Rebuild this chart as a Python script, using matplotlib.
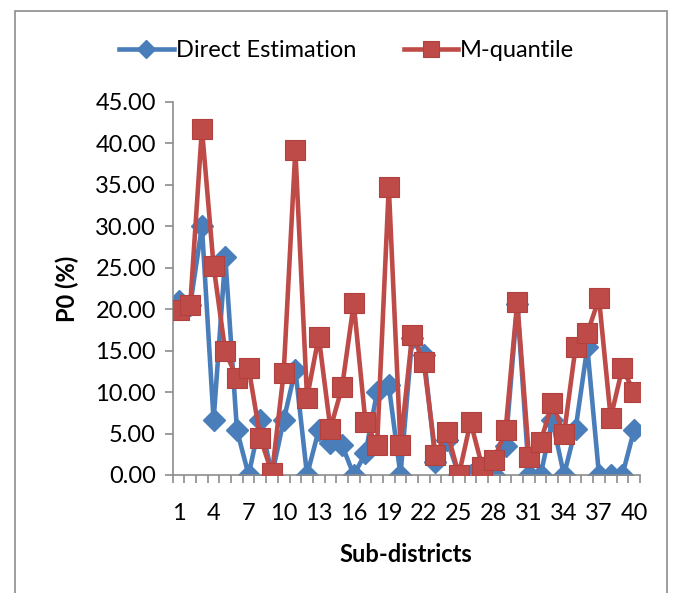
import numpy as np
import matplotlib.pyplot as plt
from matplotlib.patches import Rectangle

# sub-district index 1..40
districts = np.arange(1, 41)

direct_est = [21.0, 20.5, 30.0, 6.6, 26.3, 5.4, 0.0, 6.6, 0.0, 6.6,
              12.7, 0.0, 5.4, 3.8, 3.6, 0.0, 2.6, 10.0, 10.8, 0.0,
              16.5, 14.5, 1.6, 4.2, 0.0, 0.0, 0.0, 0.0, 3.5, 20.6,
              0.0, 0.0, 6.6, 0.0, 5.6, 15.4, 0.0, 0.0, 0.0, 5.4]
m_quantile = [19.9, 20.5, 41.8, 25.2, 14.9, 11.7, 12.9, 4.5, 0.2, 12.3,
              39.2, 9.3, 16.7, 5.6, 10.6, 20.7, 6.4, 3.6, 34.8, 3.6,
              16.9, 13.6, 2.4, 5.2, 0.0, 6.4, 1.0, 1.8, 5.4, 20.9,
              2.2, 4.0, 8.7, 4.9, 15.5, 17.1, 21.3, 6.9, 12.9, 10.0]

x_labels = np.arange(1, 41, 3)
y_ticks = np.arange(0, 46, 5)

plt.rcParams['font.family'] = ['Lato', 'DejaVu Sans']

fig = plt.figure(figsize=(6.8, 5.93), dpi=100)
ax = fig.add_axes([0.254, 0.199, 0.687, 0.629])

# outer chart border (bottom edge is cut off in the original)
fig.patches.append(Rectangle((15/680, -0.05), 652/680, 1.05 - 11/593,
                             transform=fig.transFigure, fill=False,
                             edgecolor='#8c8c8c', lw=1.2))

blue = '#4A7EBB'
red = '#BE4B48'
ax.plot(districts, direct_est, color=blue, lw=3.3, marker='D', ms=11,
        mfc=blue, mec=blue, label='Direct Estimation', zorder=2)
ax.plot(districts, m_quantile, color=red, lw=3.3, marker='s', ms=14,
        mfc=red, mec='#B0413E', mew=0.8, label='M-quantile', zorder=3)

ax.set_xlim(0.5, 40.5)
ax.set_ylim(0, 45)
ax.set_yticks(y_ticks)
ax.set_yticklabels([f'{v:.2f}' for v in y_ticks])
ax.set_xticks(x_labels)
ax.set_xticklabels([str(v) for v in x_labels])
ax.set_xticks(np.arange(0.5, 41, 1), minor=True)
ax.tick_params(axis='x', which='major', length=0, pad=20, labelsize=17)
ax.tick_params(axis='x', which='minor', length=6, width=1.2, color='#8c8c8c')
ax.tick_params(axis='y', length=6, width=1.2, color='#8c8c8c', labelsize=17, pad=6)

for s in ['top', 'right']:
    ax.spines[s].set_visible(False)
for s in ['left', 'bottom']:
    ax.spines[s].set_color('#8c8c8c')
    ax.spines[s].set_linewidth(1.2)

ax.set_ylabel('P0 (%)', fontsize=17, fontweight='bold', labelpad=12)
ax.set_xlabel('Sub-districts', fontsize=17, fontweight='bold', labelpad=14)

fig.legend(loc='center', bbox_to_anchor=(0.51, 0.914), ncol=2, frameon=False,
           fontsize=17, handlelength=2.3, columnspacing=2.0, handletextpad=0.1,
           markerscale=0.85)

fig.savefig('out.png', dpi=100)
